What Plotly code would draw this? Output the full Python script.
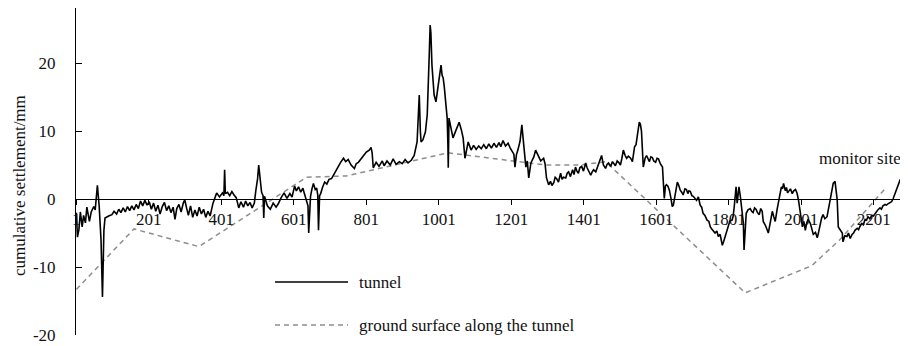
import plotly.graph_objects as go

# ---------------- data ----------------
tunnel_station = [
    1, 4, 8, 12, 17, 21, 26, 30, 37, 42, 49, 53, 59, 64, 69, 73, 77, 80, 90, 99,
    105, 112, 118, 124, 130, 136, 142, 148, 154, 160, 166, 172, 178, 184, 190, 196, 202,
    208, 214, 220, 226, 232, 238, 244, 250, 256, 262, 268, 273, 278, 284, 290, 296, 300,
    305, 310, 316, 322, 328, 334, 340, 346, 352, 358, 364, 370,
    378, 388, 396, 404, 408, 410, 412, 418, 424, 430, 436, 442, 449, 455, 462, 468, 474,
    480, 486, 492, 496, 501, 504, 507, 512, 516, 518, 520, 524,
    528, 536, 544, 552, 558, 566, 574, 582, 590, 596, 603, 608, 614, 620, 626, 630, 636,
    640, 642, 645, 647, 651, 655, 660, 664, 667, 669, 672, 675, 680, 686, 692, 698, 705,
    711, 717, 724, 730, 738, 744, 751,
    759, 768, 773, 779, 787, 794, 801, 809, 814, 817, 820, 828, 836, 845, 850, 858, 867,
    875, 883, 892, 900, 908, 916, 925, 933, 941, 945, 947, 950, 952, 957, 960, 964, 969,
    972, 975, 977, 979, 982, 985, 988, 993, 996, 999, 1004, 1007, 1010, 1013, 1016, 1020,
    1024, 1026, 1027, 1029, 1034, 1040, 1046, 1052, 1057, 1063, 1068, 1073, 1077, 1082,
    1090, 1097, 1104, 1111, 1118,
    1125, 1132, 1139, 1146, 1153, 1160, 1167, 1172, 1178, 1185, 1192, 1198, 1204, 1208,
    1211, 1215, 1219, 1225, 1230, 1233, 1236, 1241, 1245, 1249, 1255, 1263, 1268, 1274,
    1282, 1290, 1294, 1298, 1304, 1309, 1313, 1318, 1322, 1326, 1331, 1337, 1341, 1345,
    1351, 1355, 1359, 1364, 1370, 1374, 1378, 1382, 1386, 1390, 1395, 1400, 1406, 1410,
    1414, 1420, 1424, 1428, 1434, 1439, 1445, 1450, 1455, 1461, 1465, 1469, 1475, 1480,
    1488, 1493, 1497, 1502, 1506, 1510, 1515, 1519, 1524, 1530, 1535, 1541, 1545, 1549,
    1554, 1557, 1560, 1565, 1570, 1574, 1578, 1582, 1586, 1590, 1594, 1599, 1603, 1607,
    1612, 1618, 1620, 1623, 1626, 1629, 1633, 1637, 1641, 1645, 1648, 1651, 1655, 1659,
    1663, 1667, 1671, 1675, 1680, 1684, 1688, 1691, 1695, 1699, 1703, 1708, 1712, 1717,
    1722, 1726, 1730, 1735, 1741, 1746, 1750, 1754, 1758, 1763, 1768, 1772, 1777, 1780,
    1783, 1787, 1791, 1795, 1799, 1804, 1810, 1813, 1816, 1819, 1821, 1824, 1826, 1829,
    1833, 1838, 1841, 1843, 1846, 1849, 1854, 1860, 1864, 1868, 1872, 1876, 1880, 1885,
    1889, 1893,
    1896, 1903, 1910, 1915, 1921, 1925, 1929, 1934, 1938, 1942, 1946, 1949, 1952, 1957,
    1960, 1963, 1967, 1971, 1976, 1980, 1985, 1989, 1993, 1998, 2004, 2008, 2012, 2016,
    2020, 2026, 2030, 2034, 2040, 2045, 2049, 2053, 2057, 2061, 2066, 2072, 2076, 2081,
    2085, 2089, 2094, 2097, 2100, 2103, 2108, 2114, 2116, 2121, 2127, 2131, 2136, 2141,
    2145, 2149, 2155, 2159, 2163, 2168, 2172, 2177, 2181, 2185, 2190, 2196, 2200, 2204,
    2208, 2212, 2218, 2222, 2226, 2232, 2236, 2240, 2245, 2250, 2254, 2259, 2265, 2270,
    2274,
]
tunnel_settlement = [
    -2.0, -5.6, -4.5, -1.9, -4.1, -2.4, -3.5, -1.2, -3.3, -1.9, -1.1, -1.6, 2.0, -1.1, -6.0, -14.4, -4.6, -2.8, -2.5, -2.3,
    -1.8, -2.2, -1.5, -2.0, -1.3, -1.9, -1.1, -1.7, -1.0, -1.6, -0.8, -1.4, -0.3, -1.0, -0.2, -0.9, -0.4,
    -1.5, -0.6, -1.8, -0.9, -2.2, -1.1, -0.5, -1.7, -1.0, -2.0, -1.2, -3.0, -1.4, -0.8, -1.9, -0.6, -0.1,
    -1.3, -2.4, -1.0, -2.7, -1.6, -2.5, -1.2, -2.2, -1.5, -2.7, -1.8, -2.5,
    -0.6, 0.9, 0.3, 0.9, 0.5, 4.3, 0.8, 1.0, 0.5, 1.1, 0.6, 0.2, -1.3, -0.4, -1.2, -0.3, -1.0,
    -0.5, -1.3, -0.6, 1.2, 3.0, 5.0, 3.4, 1.0, 0.5, -2.8, 0.4, -0.3,
    -1.0, -1.5, -0.6, -1.2, -0.7, 0.2, 0.9, 0.1, 0.8, 0.3, 1.9, 1.2, 1.8, 1.0, 1.6, 0.8, -0.5,
    -1.0, -5.0, -0.5, 0.4, 1.5, 2.3, 1.4, 1.6, 0.6, -4.6, 0.5, 0.8, 1.7, 2.5, 2.2, 2.9, 3.0,
    3.6, 4.2, 5.0, 5.4, 6.0, 5.5, 5.8,
    5.0, 4.5, 5.2, 5.4, 6.0, 6.4, 6.9, 7.2, 7.6, 6.8, 4.6, 5.4, 4.8, 5.6, 4.9, 5.6, 5.0,
    5.9, 5.1, 5.5, 5.2, 5.8, 5.3, 5.7, 6.4, 8.4, 12.0, 15.3, 10.0, 8.4, 8.7, 9.4, 9.9, 12.4,
    16.0, 22.0, 25.6, 24.5, 19.7, 17.0, 15.3, 14.3, 15.6, 16.5, 18.5, 19.7, 18.2, 17.8, 16.5, 13.5,
    11.9, 8.0, 4.6, 11.9, 10.4, 9.0, 9.8, 10.6, 11.3, 10.2, 9.0, 6.0, 7.0, 8.4,
    7.2, 7.9, 7.3, 7.8, 7.4,
    8.0, 7.4, 8.1, 7.5, 8.2, 7.6, 8.3, 7.7, 8.6, 7.8, 8.2, 7.5, 7.0, 6.6,
    4.7, 6.5, 7.2, 8.5, 10.9, 9.0, 7.0, 4.7, 5.6, 3.1, 5.3, 6.2, 7.2, 6.4,
    5.6, 6.0, 5.2, 3.1, 2.1, 2.6, 2.0, 2.4, 3.2, 3.0, 2.5, 3.8, 2.9, 3.2,
    3.1, 3.8, 4.0, 3.3, 4.3, 3.6, 4.7, 4.1, 3.8, 4.6, 4.8, 4.1, 5.3, 4.6,
    4.2, 3.5, 4.0, 4.3, 4.0, 4.7, 5.5, 6.4, 5.0, 4.5, 5.1, 5.3, 4.8, 5.5,
    4.9, 5.6, 5.4, 5.0, 6.0, 7.2, 6.4, 6.0, 6.3, 6.0, 5.5, 7.7, 8.0, 9.2,
    11.3, 11.0, 10.0, 4.7, 6.0, 6.4, 5.9, 5.5, 6.2, 6.1, 5.6, 5.4, 6.0, 5.9,
    5.2, 4.7, 2.8, 0.1, 1.9, 2.1, 1.9, 1.3, 0.2, -1.1, -0.9, -0.1, 1.2, 2.5,
    2.0, 1.3, 1.0, 0.6, 1.5, 1.4, 0.8, 1.2, 1.1, 0.5, 0.4, 0.1, -0.2, 0.3,
    -0.9, -1.2, -2.1, -2.4, -3.1, -3.3, -4.1, -4.4, -4.6, -5.0, -4.7, -5.5, -5.2, -6.0,
    -6.8, -6.2, -5.5, -4.6, -4.1, -3.2, -3.1, -2.5, -1.1, 0.8, 1.8, -0.6, 0.5, 1.8,
    0.3, -1.6, -3.5, -7.5, -3.5, -2.1, -1.6, -1.4, -1.8, -2.0, -1.3, -1.5, -2.0, -2.3,
    -1.4, -1.8,
    -3.3, -4.0, -5.0, -3.2, -1.8, -2.6, -3.3, -1.6, -0.6, 0.5, 1.8, 1.5, 2.3, 1.2,
    1.7, 0.9, 1.3, 1.5, 0.8, 1.2, 1.4, 0.9, -0.1, -2.0, -4.1, -3.3, -4.6, -3.5,
    -3.0, -3.6, -4.4, -5.2, -4.9, -5.7, -4.8, -3.6, -2.8, -2.3, -2.9, -2.6, -1.5, -0.1,
    1.2, 2.3, 2.6, 1.5, -0.1, -4.1, -4.6, -5.0, -6.3, -5.4, -5.5, -5.0, -5.8, -5.2,
    -5.0, -4.6, -4.3, -4.5, -4.0, -3.6, -3.8, -3.0, -3.1, -2.6, -2.9, -2.4, -2.5, -2.1,
    -1.9, -1.6, -1.3, -1.5, -1.0, -0.8, -0.9, -0.7, -0.6, -0.4, 0.0, 0.8, 1.6, 2.6,
    2.9,
]
ground_station = [1, 160, 339, 636, 746, 1026, 1296, 1392, 1461, 1846, 2030, 2107, 2237]
ground_settlement = [-13.3, -4.4, -7.0, 3.2, 3.4, 6.8, 5.0, 5.0, 5.5, -13.8, -9.8, -6.0, 1.8]

x_tick_values = [1, 201, 401, 601, 801, 1001, 1201, 1401, 1601, 1801, 2001, 2201]
x_tick_labels = [str(v) for v in x_tick_values]
y_tick_values = [-20, -10, 0, 10, 20]
y_tick_labels = ["-20", "-10", "0", "10", "20"]

series_names = ["tunnel", "ground surface along the tunnel"]
y_title = "cumulative settlement/mm"
site_label = "monitor site"

# ---------------- layout constants ----------------
# The page body has the browser's default 8px margin, so the figure is drawn
# 8px right/down of the window origin; sizes below compensate for that.
OFF = 8
W, H = 900, 338
L, R, T, B = 68, 7, 0, 11
Y_MIN, Y_MAX = -20, 28.1
X_MIN, X_MAX = 0, 2276
PW, PH = W - L - R, H - T - B
FONT = "Liberation Serif, Times New Roman, serif"
TXT = "#111111"
DASH_COLOR = "#8e8e8e"
LINE_W = 1.6


def px(xp):
    """window pixel x -> paper fraction"""
    return (xp - OFF - L) / PW


def py(yp):
    """window pixel y -> paper fraction"""
    return (H - B - (yp - OFF)) / PH


fig = go.Figure()
fig.add_trace(go.Scatter(
    x=ground_station, y=ground_settlement, mode="lines", name=series_names[1],
    line=dict(color=DASH_COLOR, width=1.5, dash="5px,4px"), showlegend=False,
))
fig.add_trace(go.Scatter(
    x=tunnel_station, y=tunnel_settlement, mode="lines", name=series_names[0],
    line=dict(color="black", width=LINE_W), showlegend=False,
))

zero_pos = (0 - Y_MIN) / (Y_MAX - Y_MIN)

fig.update_layout(
    width=W, height=H,
    margin=dict(l=L, r=R, t=T, b=B, pad=0, autoexpand=False),
    paper_bgcolor="white", plot_bgcolor="white",
    font=dict(family=FONT, size=17, color=TXT),
    showlegend=False,
    xaxis=dict(
        range=[X_MIN, X_MAX], showgrid=False, zeroline=False,
        showline=True, linecolor="black", linewidth=1,
        anchor="free", position=zero_pos, automargin=False,
        tickmode="array", tickvals=x_tick_values, ticktext=x_tick_labels,
        ticks="outside", ticklen=5, tickcolor="black", tickwidth=1,
        tickfont=dict(family=FONT, size=17, color=TXT),
        ticklabelstandoff=0,
    ),
    yaxis=dict(
        range=[Y_MIN, Y_MAX], showgrid=False, zeroline=False,
        showline=True, linecolor="black", linewidth=1, automargin=False,
        tickmode="array", tickvals=y_tick_values, ticktext=y_tick_labels,
        ticks="inside", ticklen=6, tickcolor="black", tickwidth=1,
        tickfont=dict(family=FONT, size=17, color=TXT),
        ticklabelstandoff=16,
    ),
)

# manual legend (styling decoration, not data)
legend_items = [
    (282, dict(color="black", width=LINE_W), series_names[0]),
    (325, dict(color=DASH_COLOR, width=1.5, dash="5px,4px"), series_names[1]),
]
for yp, ln, label in legend_items:
    fig.add_shape(type="line", xref="paper", yref="paper",
                  x0=px(275), x1=px(348), y0=py(yp), y1=py(yp), line=ln)
    fig.add_annotation(xref="paper", yref="paper", x=px(357), y=py(yp),
                       xanchor="left", yanchor="middle", showarrow=False,
                       text=label, font=dict(family=FONT, size=17, color=TXT))

fig.add_annotation(xref="paper", yref="paper", x=px(903), y=py(158),
                   xanchor="right", yanchor="middle", showarrow=False,
                   text=site_label, font=dict(family=FONT, size=17, color=TXT))

fig.add_annotation(xref="paper", yref="paper", x=px(19), y=py(186),
                   xanchor="center", yanchor="middle", showarrow=False, textangle=-90,
                   text=y_title, font=dict(family=FONT, size=17, color=TXT))

fig.write_html("out.html")
